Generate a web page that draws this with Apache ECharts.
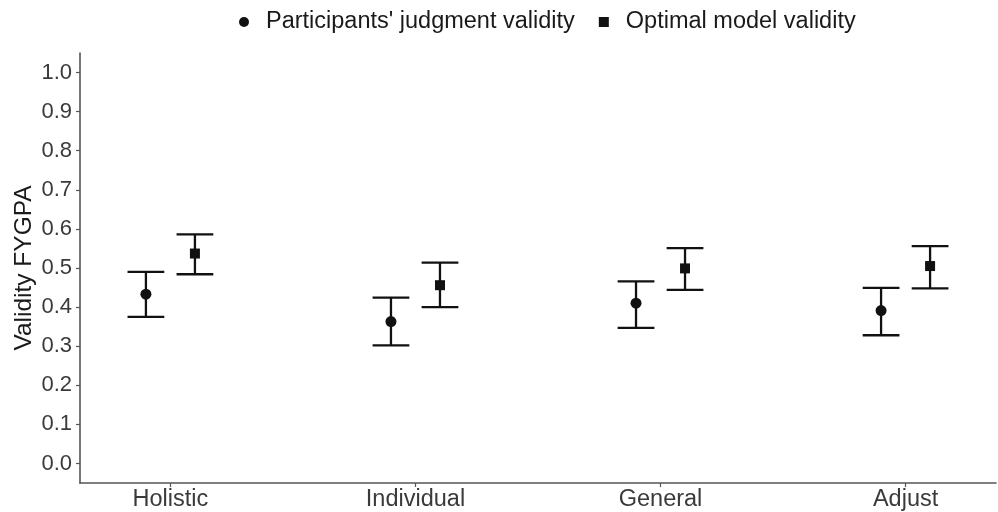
<!DOCTYPE html>
<html>
<head>
<meta charset="utf-8">
<script src="https://cdn.jsdelivr.net/npm/echarts@6/dist/echarts.min.js"></script>
<style>
html,body{margin:0;padding:0;background:#fff;}
#chart{width:998px;height:512px;}
</style>
</head>
<body>
<div id="chart"></div>
<script>
var categories = ['Holistic', 'Individual', 'General', 'Adjust'];
var seriesNames = ["Participants' judgment validity", 'Optimal model validity'];
var judgMean = [0.433, 0.363, 0.410, 0.391];
var judgLow  = [0.375, 0.302, 0.347, 0.328];
var judgHigh = [0.490, 0.424, 0.466, 0.449];
var optMean  = [0.537, 0.456, 0.499, 0.505];
var optLow   = [0.484, 0.400, 0.444, 0.448];
var optHigh  = [0.586, 0.514, 0.551, 0.556];
var yTicks = [0.0, 0.1, 0.2, 0.3, 0.4, 0.5, 0.6, 0.7, 0.8, 0.9, 1.0];

var DODGE = 0.1, CAP = 0.075;
var catPos = categories.map(function (c, i) { return i + 1; });

function pts(mean, off) {
  return mean.map(function (v, i) { return [catPos[i] + off, v]; });
}
function bars(low, high, off) {
  return low.map(function (v, i) { return [catPos[i] + off, v, high[i]]; });
}
function renderErr(params, api) {
  var x = api.value(0), lo = api.value(1), hi = api.value(2);
  var pLo = api.coord([x, lo]), pHi = api.coord([x, hi]);
  var hw = api.size([CAP, 0])[0];
  var st = { stroke: '#111', lineWidth: 2.3 };
  return {
    type: 'group',
    children: [
      { type: 'line', shape: { x1: pLo[0], y1: pLo[1], x2: pHi[0], y2: pHi[1] }, style: st },
      { type: 'line', shape: { x1: pLo[0] - hw, y1: pLo[1], x2: pLo[0] + hw, y2: pLo[1] }, style: st },
      { type: 'line', shape: { x1: pHi[0] - hw, y1: pHi[1], x2: pHi[0] + hw, y2: pHi[1] }, style: st }
    ]
  };
}

var font = 'Liberation Sans, Arial, sans-serif';
var axisGray = '#555';
var chart = echarts.init(document.getElementById('chart'));
chart.setOption({
  animation: false,
  backgroundColor: '#fff',
  textStyle: { fontFamily: font },
  legend: {
    data: [
      { name: seriesNames[0], icon: 'circle' },
      { name: seriesNames[1], icon: 'rect' }
    ],
    left: 234, top: 5,
    itemWidth: 10, itemHeight: 10, itemGap: 24,
    textStyle: { fontFamily: font, fontSize: 23.5, color: '#1a1a1a', padding: [0, 0, 0, 12] }
  },
  grid: { left: 80, right: 2, top: 53, bottom: 29, containLabel: false },
  xAxis: {
    type: 'value', min: 0.631, max: 4.369,
    splitLine: { show: false },
    axisLine: { show: true, onZero: false, lineStyle: { color: axisGray, width: 1.6 } },
    axisTick: { show: true, length: 4, customValues: catPos, lineStyle: { color: axisGray, width: 1.2 } },
    axisLabel: {
      customValues: catPos, margin: 5, fontSize: 23.5, color: '#3a3a3a', fontFamily: font,
      formatter: function (v) { return categories[Math.round(v) - 1] || ''; }
    }
  },
  yAxis: {
    type: 'value', min: -0.05, max: 1.05,
    name: 'Validity FYGPA', nameLocation: 'middle', nameGap: 43, nameMoveOverlap: false,
    nameTextStyle: { fontSize: 24.5, color: '#1a1a1a', fontFamily: font },
    splitLine: { show: false },
    axisLine: { show: true, onZero: false, lineStyle: { color: axisGray, width: 1.6 } },
    axisTick: { show: true, length: 4, customValues: yTicks, lineStyle: { color: axisGray, width: 1.2 } },
    axisLabel: {
      customValues: yTicks, margin: 8, fontSize: 22, color: '#3a3a3a', fontFamily: font,
      formatter: function (v) { return v.toFixed(1); }
    }
  },
  series: [
    { type: 'custom', name: 'errJ', renderItem: renderErr, data: bars(judgLow, judgHigh, -DODGE), z: 2, silent: true },
    { type: 'custom', name: 'errO', renderItem: renderErr, data: bars(optLow, optHigh, DODGE), z: 2, silent: true },
    { type: 'scatter', name: seriesNames[0], symbol: 'circle', symbolSize: 11, data: pts(judgMean, -DODGE),
      itemStyle: { color: '#111', opacity: 1 }, z: 3 },
    { type: 'scatter', name: seriesNames[1], symbol: 'rect', symbolSize: 10, data: pts(optMean, DODGE),
      itemStyle: { color: '#111', opacity: 1 }, z: 3 }
  ]
});
</script>
</body>
</html>
